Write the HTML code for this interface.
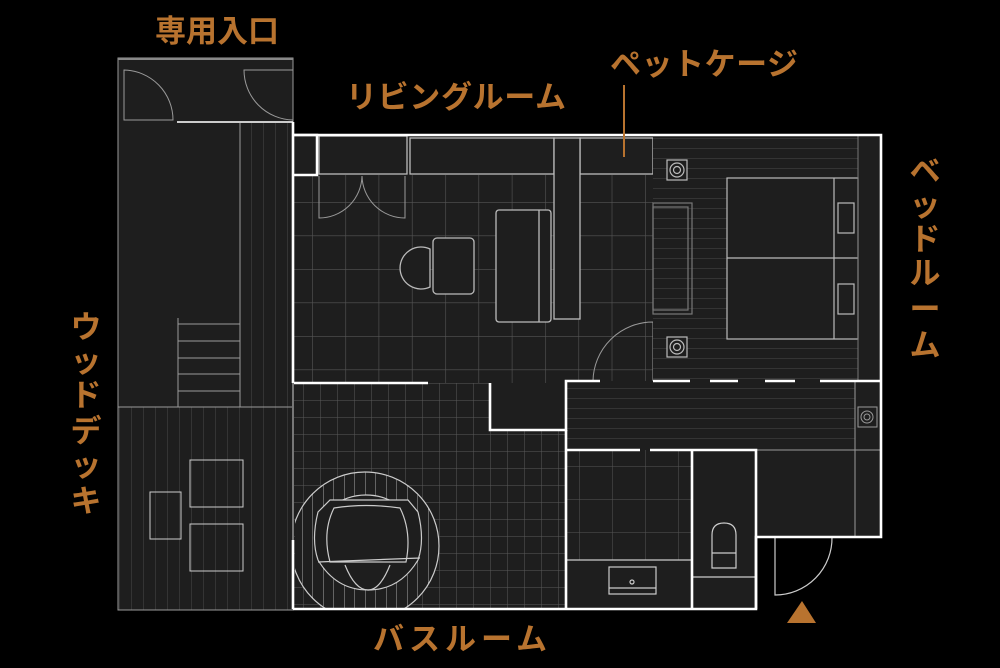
<!DOCTYPE html>
<html><head><meta charset="utf-8"><style>
html,body{margin:0;padding:0;background:#000;}
svg{display:block}
text{font-family:"Liberation Sans","Noto Sans CJK JP",sans-serif;font-weight:bold;fill:#b8732f;font-size:31px}
</style></head><body>
<svg width="1000" height="668" viewBox="0 0 1000 668" xmlns="http://www.w3.org/2000/svg">
<defs>
<pattern id="g33" patternUnits="userSpaceOnUse" x="312" y="202" width="33.3" height="33.5"><path d="M0 0V33.5M0 0H33.3" stroke="#555" stroke-width="1.2" fill="none"/></pattern>
<pattern id="g17" patternUnits="userSpaceOnUse" x="303" y="400" width="17" height="17"><path d="M0 0V17M0 0H17" stroke="#5a5a5a" stroke-width="1" fill="none"/></pattern>
<pattern id="g33b" patternUnits="userSpaceOnUse" x="612" y="466" width="33" height="33"><path d="M0 0V33M0 0H33" stroke="#555" stroke-width="1" fill="none"/></pattern>
<pattern id="h10" patternUnits="userSpaceOnUse" x="0" y="148" width="20" height="10"><path d="M0 0H20" stroke="#4a4a4a" stroke-width="1" fill="none"/></pattern>
<pattern id="v12" patternUnits="userSpaceOnUse" x="131" y="0" width="12" height="20"><path d="M0 0V20" stroke="#4a4a4a" stroke-width="1" fill="none"/></pattern>
<pattern id="v10" patternUnits="userSpaceOnUse" x="302" y="0" width="10.5" height="20"><path d="M0 0V20" stroke="#aaa" stroke-width="1" fill="none"/></pattern>
<clipPath id="tub"><path d="M295 460 H450 V609 H295Z"/></clipPath>
</defs>

<rect x="118" y="58" width="175" height="552" fill="#1e1e1e"/>
<rect x="118" y="407" width="175" height="203" fill="url(#v12)"/>
<rect x="240" y="122" width="53" height="285" fill="url(#v12)"/>
<g stroke="#9a9a9a" fill="none" stroke-width="1">
<rect x="118" y="58" width="175" height="552"/>
<line x1="118" y1="407" x2="293" y2="407"/>
<line x1="240" y1="122" x2="240" y2="407"/>
<line x1="178" y1="318" x2="178" y2="407"/>
<line x1="178" y1="324" x2="240" y2="324"/><line x1="178" y1="341" x2="240" y2="341"/><line x1="178" y1="358" x2="240" y2="358"/><line x1="178" y1="374" x2="240" y2="374"/><line x1="178" y1="391" x2="240" y2="391"/>
<rect x="190" y="460" width="53" height="47" stroke="#ccc"/>
<rect x="190" y="524" width="53" height="47" stroke="#ccc"/>
<rect x="150" y="492" width="31" height="47" stroke="#ccc"/>
<path d="M124 120V70 A50 50 0 0 1 173 120Z"/>
<path d="M293 70H244 A50 50 0 0 0 293 120"/>
<line x1="177" y1="122" x2="293" y2="122" stroke="#ccc" stroke-width="2"/>
</g>

<rect x="293" y="135" width="360" height="248" fill="#1e1e1e"/>
<rect x="293" y="175" width="360" height="208" fill="url(#g33)"/>
<g stroke="#bbb" fill="#1e1e1e" stroke-width="1.3">
<rect x="319" y="136" width="88" height="38"/>
<rect x="410" y="138" width="144" height="36"/>
<rect x="580" y="138" width="73" height="36"/>
<rect x="554" y="138" width="26" height="181"/>
<rect x="496" y="210" width="55" height="112" rx="3"/>
<line x1="539" y1="210" x2="539" y2="322"/>
<rect x="433" y="238" width="41" height="56" rx="4"/>
<path d="M430 249 A21 21 0 1 0 430 287Z"/>
</g>
<g stroke="#999" fill="none">
<path d="M319 176V218 A43 43 0 0 0 362 176"/>
<path d="M405 176V218 A43 43 0 0 1 362 176"/>
<path d="M653 322 A60 60 0 0 0 593 381 M653 322V381"/>
</g>
<path d="M293 175H317V135H293" stroke="#fff" stroke-width="2.5" fill="none"/>

<rect x="653" y="135" width="228" height="246" fill="#1e1e1e"/>
<rect x="653" y="135" width="205" height="246" fill="url(#h10)"/>
<g stroke="#bbb" fill="#1e1e1e" stroke-width="1.2">
<rect x="653" y="203" width="39" height="111" fill="none" stroke="#777"/>
<rect x="653" y="207" width="35" height="103" fill="none" stroke="#777"/>
<rect x="727" y="178" width="131" height="161"/>
<line x1="727" y1="258" x2="858" y2="258"/>
<line x1="834" y1="178" x2="834" y2="339"/>
<rect x="838" y="203" width="16" height="30"/>
<rect x="838" y="284" width="16" height="30"/>
<rect x="667" y="160" width="20" height="20"/><circle cx="677" cy="170" r="7"/><circle cx="677" cy="170" r="3.5"/>
<rect x="667" y="337" width="20" height="20"/><circle cx="677" cy="347" r="7"/><circle cx="677" cy="347" r="3.5"/>
</g>
<line x1="858" y1="135" x2="858" y2="381" stroke="#777"/>

<rect x="566" y="381" width="315" height="156" fill="#1e1e1e"/>
<rect x="566" y="381" width="289" height="67" fill="url(#h10)"/>
<g stroke="#999" fill="none">
<line x1="855" y1="381" x2="855" y2="537"/>
<line x1="756" y1="450" x2="881" y2="450"/>
<rect x="858" y="407" width="19" height="20"/><circle cx="867" cy="417" r="6"/><circle cx="867" cy="417" r="3"/>
</g>

<rect x="293" y="383" width="273" height="226" fill="#1e1e1e"/>
<rect x="293" y="383" width="273" height="226" fill="url(#g17)"/>
<rect x="490" y="383" width="76" height="47" fill="#1e1e1e"/>
<g clip-path="url(#tub)">
<circle cx="365" cy="546" r="74" fill="#1e1e1e"/>
<circle cx="365" cy="546" r="74" fill="url(#v10)"/>
<circle cx="365" cy="546" r="74" fill="none" stroke="#ccc" stroke-width="1.2"/>
</g>
<g stroke="#ccc" fill="none" stroke-width="1.2">
<ellipse cx="366" cy="538" rx="50" ry="43" fill="#1e1e1e"/>
<path d="M330 500 H408 L418 512 Q425 540 418 560 Q400 590 368 590 Q336 590 318 560 Q311 540 318 512Z" fill="#1e1e1e"/>
<path d="M334 508 Q366 503 400 508 Q412 532 406 562 L330 562 Q322 532 334 508Z"/>
<path d="M345 565 Q355 590 368 590 Q380 590 390 565"/>
<line x1="318" y1="562" x2="420" y2="558"/>
</g>

<rect x="566" y="450" width="190" height="159" fill="#1e1e1e"/>
<rect x="566" y="450" width="126" height="110" fill="url(#g33b)"/>
<g stroke="#ccc" fill="none" stroke-width="1.2">
<line x1="566" y1="560" x2="692" y2="560"/>
<rect x="609" y="567" width="47" height="27"/><line x1="609" y1="588" x2="656" y2="588"/>
<circle cx="632" cy="582" r="2"/>
<line x1="692" y1="577" x2="756" y2="577"/>
<path d="M712 568V535 Q712 523 724 523 Q736 523 736 535V568Z"/>
<line x1="712" y1="553" x2="736" y2="553"/>
<path d="M775 537V595 A57 57 0 0 0 832 537"/>
</g>

<g stroke="#fff" stroke-width="2.6" fill="none">
<path d="M293 122V383 M293 135H881V537H756V609H293 M293 540V609"/>
<path d="M293 383H428 M490 383V430H566V381H600 M653 381H690 M710 381H738 M765 381H795 M820 381H881"/>
<path d="M566 430V609 M566 450H640 M650 450H756V609 M692 450V609"/>
</g>
<line x1="293" y1="383" x2="293" y2="540" stroke="#777" stroke-width="2"/>
<rect x="118" y="58" width="175" height="2" fill="#888"/>

<text x="155" y="42">専用入口</text>
<text x="346" y="108" textLength="220">リビングルーム</text>
<text x="610" y="75" textLength="188">ペットケージ</text>
<line x1="624" y1="85" x2="624" y2="157" stroke="#b8732f" stroke-width="2"/>
<text x="373" y="650" textLength="174">バスルーム</text>
<g text-anchor="middle">
<text x="925" y="182">ベ</text><text x="925" y="216">ッ</text><text x="925" y="250">ド</text><text x="925" y="284">ル</text><text x="925" y="320">ー</text><text x="925" y="356">ム</text>
<text x="86" y="338">ウ</text><text x="86" y="372">ッ</text><text x="86" y="406">ド</text><text x="86" y="442">デ</text><text x="86" y="476">ッ</text><text x="86" y="512">キ</text>
</g>
<polygon points="802,601 787,623 816,623" fill="#b8732f"/>
</svg>
</body></html>
